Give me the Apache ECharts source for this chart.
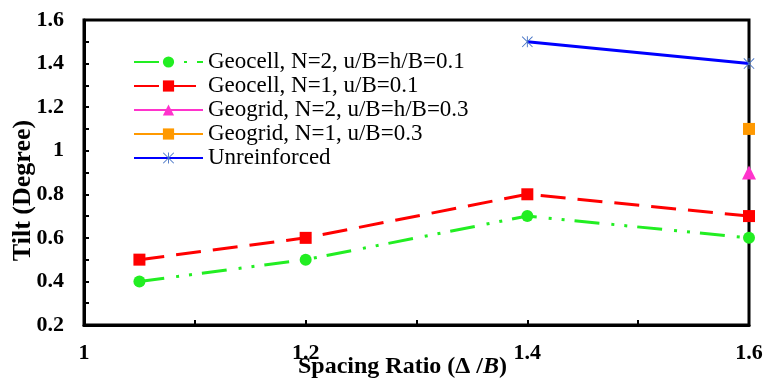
<!DOCTYPE html>
<html>
<head>
<meta charset="utf-8">
<script src="https://cdn.jsdelivr.net/npm/echarts@6/dist/echarts.min.js"></script>
<style>
  html, body { margin: 0; padding: 0; background: #fff; }
  #chart { width: 765px; height: 383px; }
</style>
</head>
<body>
<div id="chart"></div>
<script>
// data
const spacing = [1.05, 1.2, 1.4, 1.6];
const geocellN2 = [0.4, 0.5, 0.7, 0.6];
const geocellN1 = [0.5, 0.6, 0.8, 0.7];
const geogridN2X = [1.6];
const geogridN2 = [0.9];
const geogridN1X = [1.6];
const geogridN1 = [1.1];
const unreinfX = [1.4, 1.6];
const unreinf = [1.5, 1.4];

const names = [
    'Geocell, N=2, u/B=h/B=0.1',
    'Geocell, N=1, u/B=0.1',
    'Geogrid, N=2, u/B=h/B=0.3',
    'Geogrid, N=1, u/B=0.3',
    'Unreinforced'
];

const zip = (xs, ys) => xs.map((x, i) => [x, ys[i]]);

// asterisk marker (vertical bar + two diagonals)
const ASTERISK = 'path://M9.2,0 L10.8,0 L10.8,20 L9.2,20 Z M0,1.1 L1.1,0 L20,18.9 L18.9,20 Z M18.9,0 L20,1.1 L1.1,20 L0,18.9 Z';

const FONT = '"Liberation Serif", "Times New Roman", serif';

const chart = echarts.init(document.getElementById('chart'), null, { renderer: 'canvas' });

chart.setOption({
    animation: false,
    backgroundColor: '#fff',
    textStyle: { fontFamily: FONT, color: '#000' },
    grid: {
        left: 84, right: 16, top: 20, bottom: 58,
        outerBoundsMode: 'none',
        show: true, borderColor: '#000', borderWidth: 3, backgroundColor: 'transparent'
    },
    legend: {
        orient: 'vertical',
        left: 128, top: 45,
        itemWidth: 69, itemHeight: 14, itemGap: 0,
        textStyle: { fontFamily: FONT, fontSize: 23, lineHeight: 24, color: '#000' },
        data: names
    },
    xAxis: {
        type: 'value', min: 1, max: 1.6, interval: 0.2,
        name: '{a|Spacing Ratio (Δ /}{b|B}{a|)}',
        nameLocation: 'middle', nameGap: 30, nameMoveOverlap: false,
        nameTextStyle: {
            padding: [0, 28, 0, 0],
            rich: {
                a: { fontFamily: FONT, fontSize: 24, fontWeight: 'bold', color: '#000' },
                b: { fontFamily: FONT, fontSize: 24, fontWeight: 'bold', fontStyle: 'italic', color: '#000' }
            }
        },
        axisLine: { show: true, lineStyle: { color: '#000', width: 3 } },
        axisTick: { show: true, inside: true, length: 5, lineStyle: { color: '#000', width: 2 } },
        minorTick: { show: true, splitNumber: 2, length: 5, lineStyle: { color: '#000', width: 2 } },
        axisLabel: { fontFamily: FONT, fontSize: 22, fontWeight: 'bold', color: '#000', margin: 17 },
        splitLine: { show: false }
    },
    yAxis: {
        type: 'value', min: 0.2, max: 1.6, interval: 0.2,
        name: 'Tilt (Degree)',
        nameLocation: 'middle', nameGap: 48, nameRotate: 90, nameMoveOverlap: false,
        nameTextStyle: {
            fontFamily: FONT, fontSize: 26, fontWeight: 'bold', color: '#000',
            padding: [0, 36, 0, 0]
        },
        axisLine: { show: true, lineStyle: { color: '#000', width: 3 } },
        axisTick: { show: true, inside: true, length: 5, lineStyle: { color: '#000', width: 2 } },
        minorTick: { show: true, splitNumber: 2, length: 5, lineStyle: { color: '#000', width: 2 } },
        axisLabel: { fontFamily: FONT, fontSize: 22, fontWeight: 'bold', color: '#000', margin: 20 },
        splitLine: { show: false }
    },
    series: [
        {
            name: names[0], type: 'line', data: zip(spacing, geocellN2),
            symbol: 'circle', symbolSize: 12,
            itemStyle: { color: '#22ee22' },
            lineStyle: { color: '#22ee22', width: 3, type: [25, 12, 3, 10, 3, 10] }
        },
        {
            name: names[1], type: 'line', data: zip(spacing, geocellN1),
            symbol: 'rect', symbolSize: 12,
            itemStyle: { color: '#ff0000' },
            lineStyle: { color: '#ff0000', width: 3, type: [25, 12] }
        },
        {
            name: names[2], type: 'line', data: zip(geogridN2X, geogridN2),
            symbol: 'triangle', symbolSize: 14,
            itemStyle: { color: '#ff33cc' },
            lineStyle: { color: '#ff33cc', width: 3 }
        },
        {
            name: names[3], type: 'line', data: zip(geogridN1X, geogridN1),
            symbol: 'rect', symbolSize: 12,
            itemStyle: { color: '#ff9900' },
            lineStyle: { color: '#ff9900', width: 3 }
        },
        {
            name: names[4], type: 'line', data: zip(unreinfX, unreinf),
            symbol: ASTERISK, symbolSize: 11,
            itemStyle: { color: '#4472c4' },
            lineStyle: { color: '#0000ff', width: 3 }
        }
    ]
});
</script>
</body>
</html>
